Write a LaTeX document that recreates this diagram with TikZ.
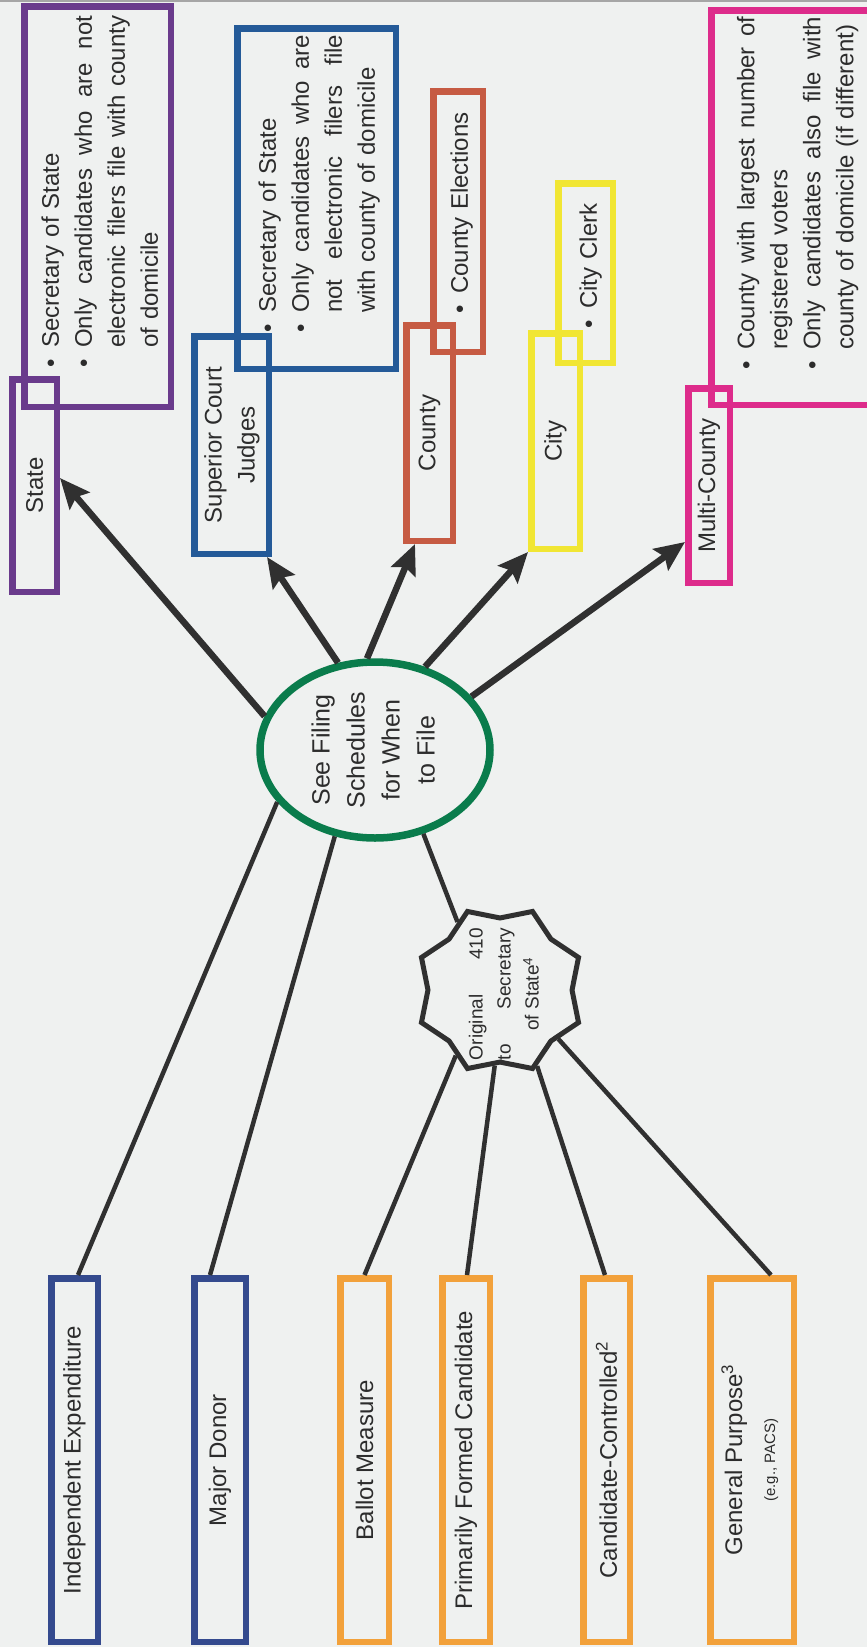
\documentclass[tikz,border=0pt]{standalone}
\usepackage{fontspec}
\setmainfont{Liberation Sans}
\usetikzlibrary{shapes.geometric,arrows.meta,calc}
\definecolor{bgc}{HTML}{EFF1F0}
\definecolor{textc}{HTML}{2C2C2C}
\definecolor{linec}{HTML}{303030}
\definecolor{purp}{HTML}{6A3B8C}
\definecolor{sblue}{HTML}{245A98}
\definecolor{cred}{HTML}{C65B43}
\definecolor{cyel}{HTML}{F1E633}
\definecolor{cmag}{HTML}{DD2C8B}
\definecolor{cgreen}{HTML}{0A7C4C}
\definecolor{navy}{HTML}{344A8E}
\definecolor{corange}{HTML}{F2A13B}
\newcommand{\labfont}{\fontsize{24}{33}\selectfont}
\newcommand{\bpt}{\strut\makebox[20pt][l]{\textbullet}}
\newcommand{\ind}{\strut\hspace*{20pt}}
\newcommand{\jl}[2]{{\spaceskip=0pt\xspaceskip=0pt\makebox[#1][s]{#2}}}
\tikzset{
  box/.style={draw=#1, line width=6.5pt, inner sep=0pt, font=\labfont, text=textc},
  bultext/.style={rotate=90, anchor=north west, inner sep=0pt, text width=#1, align=left, font=\labfont, text=textc},
  arr/.style={draw=linec, line width=6.5pt, -{Stealth[length=30pt,width=26pt,inset=5pt]}},
  conn/.style={draw=linec, line width=4.5pt},
  circnode/.style={ellipse, draw=cgreen, line width=7.5pt, minimum width=230pt, minimum height=176pt, inner sep=0pt, font=\fontsize{25}{35}\selectfont, text=textc},
  starnode/.style={star, star points=8, star point ratio=1.18, shape border rotate=22.5, minimum size=170pt, inner sep=0pt, draw=linec, line width=5pt},
}
\begin{document}
\begin{tikzpicture}[x=1pt,y=-1pt]
\useasboundingbox (0,0) rectangle (867,1647);
\fill[bgc] (0,0) rectangle (867,1647);
\fill[black!35] (0,0) rectangle (867,2);
\begin{scope}
\clip (0,0) rectangle (867,1647);
% top label boxes
\node[box=purp, minimum width=44.5pt, minimum height=212.5pt] (state) at (34.5,485.5) {\rotatebox{90}{State}};
\node[box=purp, minimum width=146.5pt, minimum height=400.5pt] (statebul) at (97.5,206.5) {};
\node[box=sblue, minimum width=74.5pt, minimum height=217.5pt] (scj) at (231.5,445) {\rotatebox{90}{\begin{tabular}{@{}c@{}}Superior Court\\Judges\end{tabular}}};
\node[box=sblue, minimum width=158.5pt, minimum height=340.5pt] (scjbul) at (316.5,198.5) {};
\node[box=cred, minimum width=46.5pt, minimum height=215.5pt] (county) at (429.5,433) {\rotatebox{90}{County}};
\node[box=cred, minimum width=49.5pt, minimum height=260.5pt] (countybul) at (458,221.5) {};
\node[box=cyel, minimum width=48.5pt, minimum height=215.5pt] (city) at (555.5,441) {\rotatebox{90}{City}};
\node[box=cyel, minimum width=54.5pt, minimum height=179.5pt] (citybul) at (585.5,273) {};
\node[box=cmag, minimum width=41.5pt, minimum height=194.5pt] (mc) at (709,485.5) {\rotatebox{90}{Multi-County}};
\node[box=cmag, minimum width=175.5pt, minimum height=394.5pt] (mcbul) at (799,207.5) {};
% bullet texts
\node[bultext=360pt] (statetxt) at (35.5,368) {\bpt Secretary of State\\
\bpt\jl{332pt}{Only candidates who are not}\\
\ind\jl{332pt}{electronic filers file with county}\\
\ind of domicile};
\node[bultext=305pt] (scjtxt) at (252.5,333) {\bpt Secretary of State\\
\bpt\jl{278pt}{Only candidates who are}\\
\ind\jl{278pt}{not electronic filers file}\\
\ind with county of domicile};
\node[bultext=220pt] (countytxt) at (444.5,314) {\bpt County Elections};
\node[bultext=150pt] (citytxt) at (573.5,329) {\bpt City Clerk};
\node[bultext=360pt] (mctxt) at (731,370) {\bpt\jl{333pt}{County with largest number of}\\
\ind registered voters\\
\bpt\jl{333pt}{Only candidates also file with}\\
\ind county of domicile (if different)};
% centre
\node[circnode] (circ) at (375,750) {\rotatebox{90}{\begin{tabular}{@{}c@{}}See Filing\\Schedules\\for When\\to File\end{tabular}}};
\node[starnode] (stars) at (500,990) {};
\node[inner sep=0pt, font=\fontsize{19}{28}\selectfont, text=textc] (startxt) at (505,994) {\rotatebox{90}{\begin{tabular}{@{}c@{}}\makebox[132pt][s]{Original 410}\\\makebox[132pt][s]{to Secretary}\\of State\textsuperscript{4}\end{tabular}}};
% bottom boxes
\node[box=navy, minimum width=46.5pt, minimum height=363.5pt] (ie) at (74.5,1460) {\rotatebox{90}{Independent Expenditure}};
\node[box=navy, minimum width=51.5pt, minimum height=363.5pt] (md) at (220,1460) {\rotatebox{90}{Major Donor}};
\node[box=corange, minimum width=48.5pt, minimum height=363.5pt] (bm) at (364.5,1460) {\rotatebox{90}{Ballot Measure}};
\node[box=corange, minimum width=47.5pt, minimum height=363.5pt] (pfc) at (466,1460) {\rotatebox{90}{Primarily Formed Candidate}};
\node[box=corange, minimum width=46.5pt, minimum height=363.5pt] (cc) at (606.5,1460) {\rotatebox{90}{Candidate-Controlled\textsuperscript{2}}};
\node[box=corange, minimum width=83.5pt, minimum height=363.5pt] (gp) at (752,1460) {\rotatebox{90}{\begin{tabular}{@{}c@{}}General Purpose\textsuperscript{3}\\{\fontsize{15}{20}\selectfont (e.g., PACS)}\end{tabular}}};
% arrows
\draw[arr] (circ.163) -- ([yshift=7.5pt]state.east);
\draw[arr] (circ.113) -- ([xshift=35.5pt]scj.south);
\draw[arr] (circ.95) -- ([xshift=-14.5pt]county.south);
\draw[arr] (circ.59) -- (city.south west);
\draw[arr] (circ.29) -- ([yshift=-56.5pt]mc.west);
% connectors
\draw[conn] (circ.208) -- ([xshift=3.5pt]ie.north);
\draw[conn] (circ.245) -- ([xshift=-10pt]md.north);
\draw[conn] (circ.300) -- (stars.122);
\draw[conn] (stars.236) -- (bm.north);
\draw[conn] (stars.266) -- ([xshift=1pt]pfc.north);
\draw[conn] (stars.296) -- ([xshift=-1.5pt]cc.north);
\draw[conn] (stars.320) -- ([xshift=19pt]gp.north);
\end{scope}
\end{tikzpicture}
\end{document}
